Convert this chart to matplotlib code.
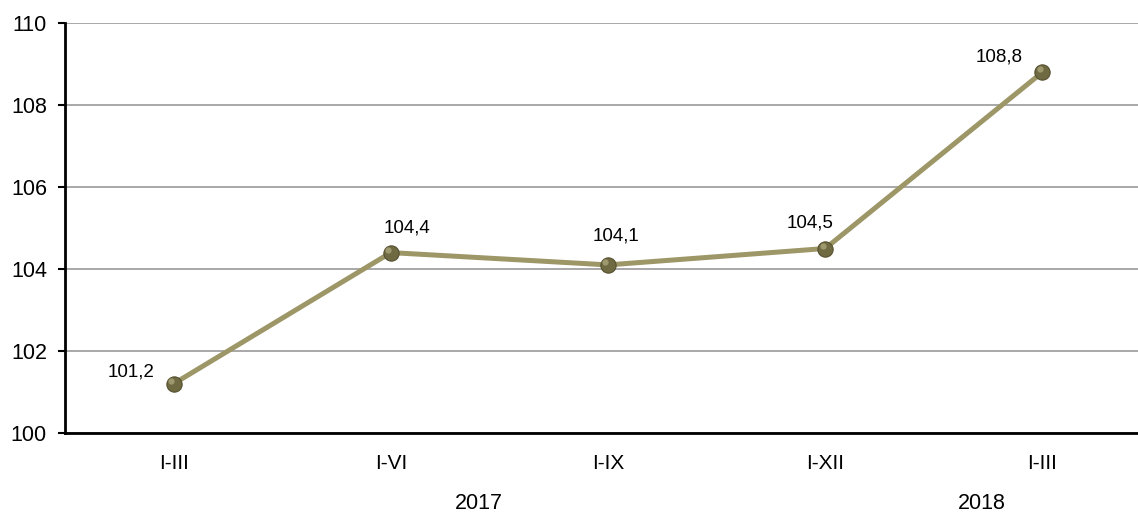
import numpy as np
import matplotlib.pyplot as plt

plt.rcParams['font.family'] = ['Liberation Sans', 'DejaVu Sans']

periods = ['I-III', 'I-VI', 'I-IX', 'I-XII', 'I-III']
values = [101.2, 104.4, 104.1, 104.5, 108.8]
value_labels = ['101,2', '104,4', '104,1', '104,5', '108,8']
years = ['2017', '2018']

# label offsets in pixels (dx, dy) relative to the point
label_offsets = [(-43, 12), (16, 25), (8, 29), (-15, 26), (-43, 15)]

fig = plt.figure(figsize=(11.38, 5.13), dpi=100)
ax = fig.add_axes([65 / 1138, 80 / 513, 1 - 65 / 1138, (433 - 23) / 513])

x = np.arange(len(values))
ax.plot(x, values, color='#9d9667', lw=3.6, zorder=3, solid_capstyle='round')
ax.plot(x, values, ls='none', marker='o', ms=11, mfc='#6f6a42', mec='#55502f', mew=0.8, zorder=4)
ax.plot(x - 0.012, np.array(values) + 0.07, ls='none', marker='o', ms=4.5,
        mfc='#b3ad82', mec='none', alpha=0.7, zorder=5)

for xi, v, lab, (dx, dy) in zip(x, values, value_labels, label_offsets):
    ax.annotate(lab, (xi, v), xytext=(dx, dy), textcoords='offset pixels',
                ha='center', va='center', fontsize=13.5, color='black')

ax.set_ylim(100, 110)
ax.set_yticks(np.arange(100, 111, 2))
ax.set_xlim(-0.5, 4.44)
ax.set_xticks(x)
ax.set_xticklabels(periods)
ax.tick_params(axis='x', length=0, pad=15, labelsize=15)
ax.tick_params(axis='y', length=5, width=1.5, pad=8, labelsize=15.5, direction='out')

ax.grid(axis='y', color='#999999', lw=1.2)
ax.set_axisbelow(True)
for s in ['top', 'right']:
    ax.spines[s].set_visible(False)
ax.spines['left'].set_linewidth(2)
ax.spines['bottom'].set_linewidth(2)

# year group labels
year_pos = [1.405, 3.72]
for yp, yr in zip(year_pos, years):
    ax.text(yp, -0.172, yr, transform=ax.get_xaxis_transform(), ha='center', va='center',
            fontsize=15.5, color='black')

fig.savefig('out.png', dpi=100)
